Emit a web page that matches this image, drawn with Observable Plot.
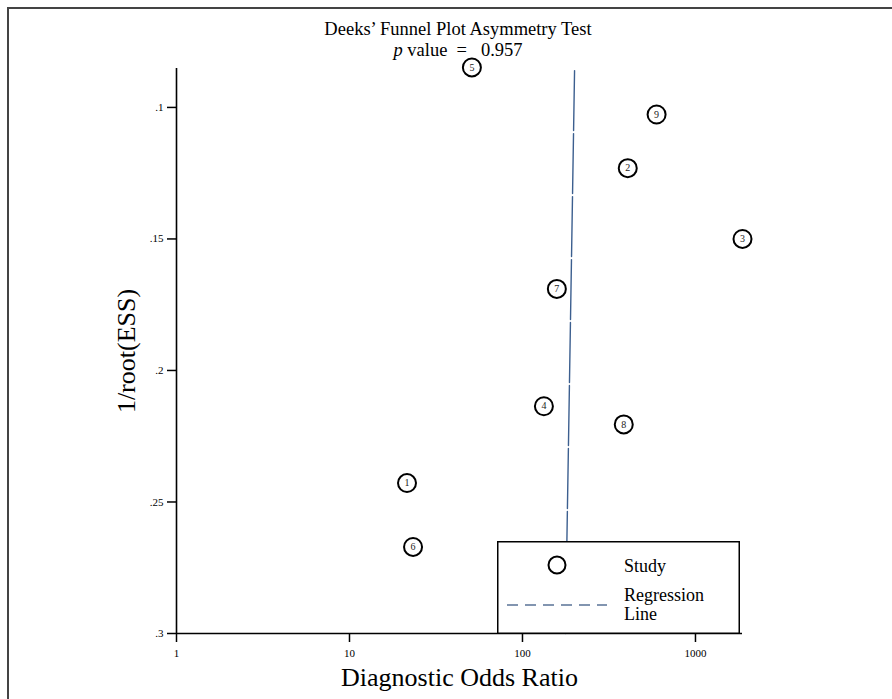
<!DOCTYPE html>
<html>
<head>
<meta charset="utf-8">
<script src="https://cdn.jsdelivr.net/npm/d3@7"></script>
<script src="https://cdn.jsdelivr.net/npm/@observablehq/plot@0.6"></script>
<style>
  html, body { margin: 0; padding: 0; background: #fff; overflow: hidden; }
  #wrap { position: relative; width: 892px; height: 699px; overflow: hidden; font-family: "Liberation Serif", serif; }
  #hline { position: absolute; left: 7px; top: 7px; width: 885px; height: 2px; background: #444; }
  #vline { position: absolute; left: 7px; top: 7px; width: 2px; height: 692px; background: #444; }
  #chart { position: absolute; left: 0; top: 0; width: 892px; height: 699px; }
  #chart svg { display: block; }
  .title { position: absolute; left: 258px; width: 400px; text-align: center; font-size: 18.5px; line-height: 17px; white-space: pre; color: #000; }
  #t1 { top: 21px; }
  #t2 { top: 41.5px; }
  #legend { position: absolute; left: 497px; top: 541px; }
</style>
</head>
<body>
<div id="wrap">
  <div id="hline"></div>
  <div id="vline"></div>
  <div id="chart"></div>
  <div class="title" id="t1">Deeks’ Funnel Plot Asymmetry Test</div>
  <div class="title" id="t2"><i>p</i> value  =   0.957</div>
  <svg id="legend" width="243" height="93" font-family="Liberation Serif">
    <rect x="0.75" y="0.75" width="241.5" height="91.5" fill="#fff" stroke="#000" stroke-width="1.5"></rect>
    <circle cx="60" cy="24" r="8.5" fill="none" stroke="#000" stroke-width="2"></circle>
    <text x="127" y="31" font-size="18">Study</text>
    <line x1="10" x2="110" y1="64" y2="64" stroke="#5a7396" stroke-width="1.5" stroke-dasharray="11,7"></line>
    <text x="127" y="60" font-size="18">Regression</text>
    <text x="127" y="79" font-size="18">Line</text>
  </svg>
</div>
<script>
// Study data
const studies = ["1", "2", "3", "4", "5", "6", "7", "8", "9"];
const dor = [21.5, 406, 1870, 133, 51, 23.3, 158, 385, 596];
const invRootESS = [0.2428, 0.1231, 0.150, 0.2136, 0.0848, 0.2671, 0.169, 0.2205, 0.1027];

// Regression line endpoints (x = DOR, y = 1/root(ESS))
const regX = [200, 177];
const regY = [0.086, 0.3];

// Tick values
const xTicks = [1, 10, 100, 1000];
const yTicks = [0.1, 0.15, 0.2, 0.25, 0.3];

const points = studies.map((s, i) => ({study: s, dor: dor[i], ess: invRootESS[i]}));
const reg = regX.map((x, i) => ({x, y: regY[i]}));

const chart = Plot.plot({
  width: 892,
  height: 699,
  marginLeft: 176,
  marginRight: 150,
  marginTop: 68,
  marginBottom: 66,
  style: {fontFamily: "Liberation Serif", background: "transparent", color: "#000"},
  x: {type: "log", domain: [1, 1870]},
  y: {domain: [0.0852, 0.3], reverse: true},
  marks: [
    Plot.axisX({ticks: xTicks, tickFormat: d => String(d), tickSize: 9, tickPadding: 7, fontSize: 11, label: null, strokeWidth: 1.5}),
    Plot.axisY({ticks: yTicks, tickFormat: d => String(d).replace(/^0/, ""), tickSize: 9, tickPadding: 4, fontSize: 11, label: null, strokeWidth: 1.5}),
    Plot.ruleX([1], {stroke: "#000", strokeWidth: 1.6}),
    Plot.ruleY([0.3], {stroke: "#000", strokeWidth: 1.6}),
    Plot.line(reg, {x: "x", y: "y", stroke: "#3c5f8f", strokeWidth: 1.4, strokeDasharray: "60,3"}),
    Plot.dot(points, {x: "dor", y: "ess", r: 9, stroke: "#000", strokeWidth: 2, fill: "none"}),
    Plot.text(points, {x: "dor", y: "ess", text: "study", fontSize: 10, fill: "#222"}),
    Plot.text(["Diagnostic Odds Ratio"], {frameAnchor: "bottom", dy: 52, lineAnchor: "bottom", fontSize: 26, fill: "#000"}),
    Plot.text(["1/root(ESS)"], {frameAnchor: "left", dx: -50, rotate: -90, textAnchor: "middle", lineAnchor: "middle", fontSize: 26, fill: "#000"})
  ]
});
document.getElementById("chart").appendChild(chart);
</script>
</body>
</html>
